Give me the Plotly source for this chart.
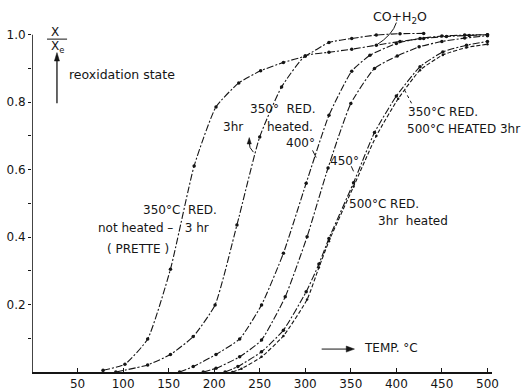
import plotly.graph_objects as go

# Reoxidation degree X/Xe versus temperature for differently pretreated samples
temp_a = [78, 102, 127, 152, 178, 202, 227, 251, 276, 300, 326, 351, 378, 404, 430]
xr_a = [0.005, 0.023, 0.098, 0.305, 0.611, 0.786, 0.857, 0.893, 0.918, 0.937, 0.977, 0.989, 0.999, 1.003, 1.004]

temp_b = [92, 127, 152, 177, 201, 225, 250, 274, 300, 326, 351, 378, 404, 430, 455, 480, 500]
xr_b = [0.0, 0.021, 0.052, 0.105, 0.199, 0.436, 0.697, 0.845, 0.937, 0.948, 0.957, 0.969, 0.98, 0.989, 0.995, 0.998, 1.0]

temp_c = [162, 177, 202, 228, 252, 276, 301, 326, 351, 371, 400, 426, 450, 475, 500]
xr_c = [0.0, 0.016, 0.052, 0.098, 0.199, 0.352, 0.56, 0.761, 0.892, 0.939, 0.974, 0.989, 0.996, 0.999, 1.0]

temp_d = [188, 202, 228, 252, 278, 302, 325, 350, 376, 401, 425, 450, 475, 500]
xr_d = [0.0, 0.011, 0.045, 0.095, 0.223, 0.401, 0.605, 0.796, 0.9, 0.937, 0.964, 0.98, 0.99, 0.997]

temp_e = [212, 226, 252, 276, 301, 315, 326, 353, 376, 400, 426, 451, 477, 500]
xr_e = [0.0, 0.016, 0.06, 0.124, 0.238, 0.32, 0.396, 0.561, 0.71, 0.818, 0.905, 0.949, 0.969, 0.98]

temp_f = [220, 230, 252, 276, 302, 315, 326, 353, 378, 402, 426, 451, 477, 500]
xr_f = [0.0, 0.01, 0.045, 0.107, 0.215, 0.31, 0.388, 0.55, 0.7, 0.81, 0.895, 0.94, 0.962, 0.972]

x_ticks = [50, 100, 150, 200, 250, 300, 350, 400, 450, 500]
y_ticks = [0.2, 0.4, 0.6, 0.8, 1.0]
y_tick_text = ["0.2", "0.4", "0.6", "0.8", "1.0"]
y_minor_ticks = [0.1, 0.3, 0.5, 0.7, 0.9]

INK = "#151515"
FONT = "DejaVu Sans"
DASHDOT = "7px,2px,2px,2px"

fig = go.Figure()

series = [
    (temp_a, xr_a, DASHDOT, 3.5),
    (temp_b, xr_b, DASHDOT, 3.5),
    (temp_c, xr_c, DASHDOT, 3.5),
    (temp_d, xr_d, DASHDOT, 3.5),
    (temp_e, xr_e, DASHDOT, 3.5),
    (temp_f, xr_f, "4px,2px", 2.5),
]
for tx, ty, dash, msize in series:
    fig.add_trace(go.Scatter(
        x=tx, y=ty, mode="lines+markers",
        line=dict(color=INK, width=1.1, dash=dash, shape="spline", smoothing=0.5),
        marker=dict(color=INK, size=msize),
        hoverinfo="skip",
    ))


def label(x, y, text, size=12, xanchor="center", xref="x"):
    fig.add_annotation(x=x, y=y, xref=xref, yref="y", text=text, showarrow=False,
                       xanchor=xanchor, yanchor="middle",
                       font=dict(family=FONT, size=size, color=INK))


def stroke(x0, y0, x1, y1, width=1.0, dash="solid"):
    fig.add_shape(type="line", xref="x", yref="y", x0=x0, y0=y0, x1=x1, y1=y1,
                  line=dict(color=INK, width=width, dash=dash))


def head(path):
    fig.add_shape(type="path", xref="x", yref="y", path=path,
                  fillcolor=INK, line=dict(color=INK, width=0.5))


# ordinate caption: X / Xe with arrow and wording
label(25, 1.008, "X", size=12)
stroke(16.5, 0.987, 38.5, 0.987)
label(28.5, 0.963, "X<sub>e</sub>", size=12)
stroke(27.4, 0.797, 27.4, 0.93, width=1.3)
head("M 27.4 0.947 L 24.6 0.922 L 30.2 0.922 Z")
label(38.5, 0.883, "reoxidation state", size=12.5, xanchor="left")

# curve labels
label(404, 1.052, "CO+H<sub>2</sub>O", size=12.5)
fig.add_shape(type="path", xref="x", yref="y",
              path="M 400 1.036 Q 396 1.0 378 0.969",
              line=dict(color=INK, width=1))

label(276, 0.780, "350°  RED.", size=12)
label(221, 0.726, "3hr", size=12)
label(283, 0.726, "heated.", size=12)
fig.add_shape(type="path", xref="x", yref="y",
              path="M 243 0.652 Q 238 0.665 238.5 0.68",
              line=dict(color=INK, width=1))
head("M 238.5 0.695 L 236.2 0.676 L 240.8 0.676 Z")

label(295, 0.680, "400°", size=12)
stroke(308, 0.657, 312, 0.636)
label(343.5, 0.626, "450°", size=12)
stroke(350.5, 0.610, 353, 0.595)

label(162, 0.48, "350°C  RED.", size=12)
label(133, 0.427, "not heated –   3 hr", size=12)
label(116, 0.365, "( PRETTE )", size=12)

label(451, 0.771, "350°C RED.", size=12)
label(1.066, 0.72, "500°C HEATED 3hr", size=12, xanchor="right", xref="paper")
stroke(409, 0.836, 418, 0.79, dash="dot")

label(386, 0.498, "500°C RED.", size=12)
label(418, 0.448, "3hr  heated", size=12)

# abscissa caption
stroke(318, 0.068, 347, 0.068)
head("M 354 0.068 L 345 0.077 L 345 0.059 Z")
label(362, 0.071, "TEMP. °C", size=12, xanchor="left")

# ordinate axis line drawn only over 0..1
stroke(0, 0, 0, 1.0, width=1.6)

fig.update_layout(
    width=524, height=390,
    margin=dict(l=32, r=32, t=1, b=18),
    paper_bgcolor="white", plot_bgcolor="white",
    showlegend=False,
    font=dict(family=FONT, color=INK),
    xaxis=dict(range=[0, 505], showline=True, linecolor=INK, linewidth=1.6,
               tickvals=x_ticks, ticks="inside", ticklen=4, tickcolor=INK, tickwidth=1,
               showgrid=False, zeroline=False, automargin=False,
               tickfont=dict(family=FONT, size=12, color=INK)),
    yaxis=dict(range=[0, 1.1], showline=False, showgrid=False, zeroline=False,
               tickvals=y_ticks, ticktext=y_tick_text, ticks="outside", ticklen=3,
               tickcolor=INK, tickwidth=1, automargin=False,
               minor=dict(tickvals=y_minor_ticks, ticks="outside", ticklen=3,
                          tickcolor=INK, tickwidth=1),
               tickfont=dict(family=FONT, size=12, color=INK)),
)

fig.write_html("out.html")
